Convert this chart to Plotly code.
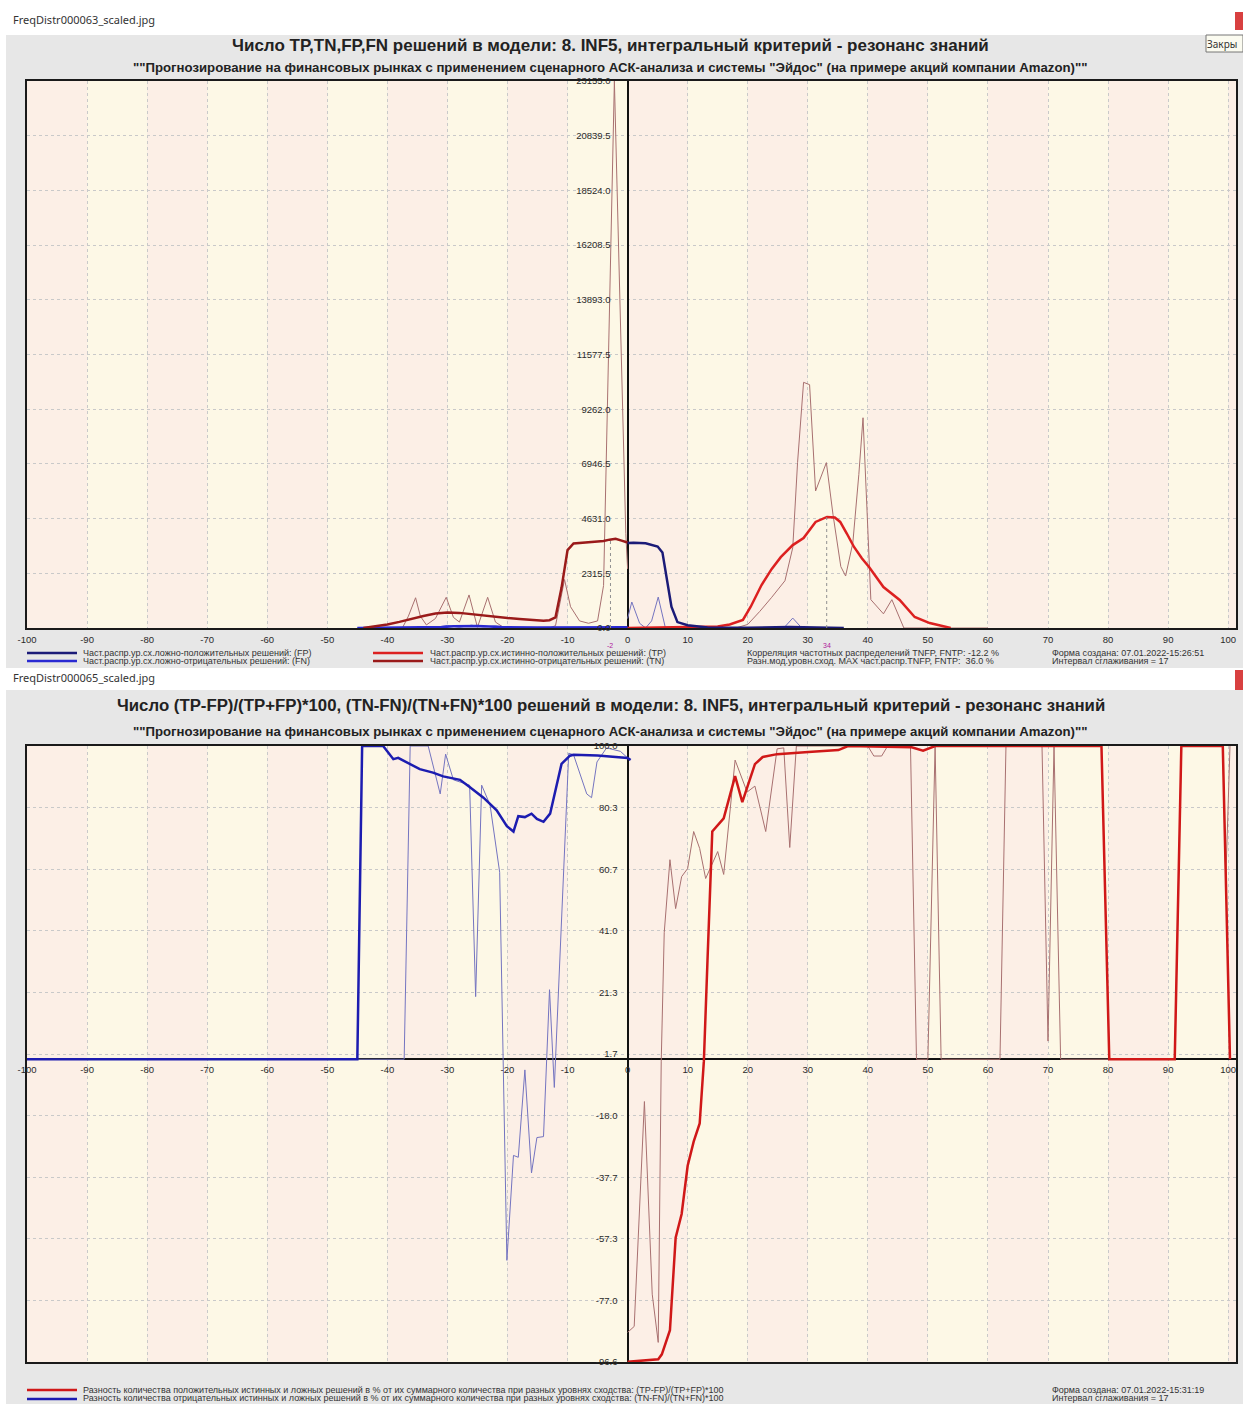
import numpy as np
import plotly.graph_objects as go

W, H = 1243, 1404
def px(x): return x / W
def py(y): return 1 - y / H

# ---------------- DATA: top chart (frequency distributions) ----------------
x_ticks = list(range(-100, 101, 10))
x_labels = [str(v) for v in x_ticks]
y1_ticks = [0, 2315.5, 4631.0, 6946.5, 9262.0, 11577.5, 13893.0, 16208.5, 18524.0, 20839.5, 23155.0]
y1_labels = ["0.0", "2315.5", "4631.0", "6946.5", "9262.0", "11577.5", "13893.0", "16208.5", "18524.0", "20839.5", "23155.0"]

# TN smoothed (thick dark red)
tn_s_x = [-44, -42, -40, -38, -36, -34, -32, -30, -28, -26, -24, -22, -20, -18, -16, -14, -13, -12, -11, -10, -9, -8, -6, -4, -3, -2, -1, 0]
tn_s_y = [0, 60, 150, 260, 390, 510, 610, 660, 640, 580, 520, 470, 420, 380, 340, 310, 330, 450, 1700, 3300, 3580, 3600, 3620, 3680, 3740, 3780, 3700, 3620]
# TN raw (thin)
tn_r_x = [-44, -37.5, -36.5, -35.3, -34.5, -33.5, -32, -30.2, -29, -28, -26.4, -25, -23.3, -22, -20.5, -13, -12, -10.5, -9.5, -8, -6.5, -5, -4, -2.2, -0.3, 0]
tn_r_y = [0, 0, 500, 1280, 500, 130, 400, 1300, 450, 250, 1400, 30, 1300, 250, 0, 0, 100, 2050, 900, 300, 200, 300, 1800, 23155, 4000, 2500]
# TP smoothed (thick red)
tp_s_x = [0, 10, 15, 17, 19.2, 20.5, 22.3, 24, 25.5, 27.5, 29.3, 31.3, 33.2, 34.5, 35.4, 36.5, 37.7, 39, 40.2, 42.6, 45.3, 47.8, 50.3, 53.8]
tp_s_y = [0, 20, 60, 150, 340, 900, 1820, 2500, 3000, 3510, 3810, 4490, 4700, 4680, 4490, 4000, 3430, 2950, 2580, 1735, 1185, 465, 210, 0]
# TP raw (thin)
tp_r_x = [0, 18, 20, 22, 24, 26.2, 27.5, 28.3, 29.3, 30.3, 31.3, 33.1, 34.2, 35.5, 36.3, 37.5, 38.5, 39.2, 40.5, 42.6, 44, 46, 60]
tp_r_y = [0, 0, 150, 700, 1300, 2000, 3400, 7000, 10400, 10300, 5800, 7000, 4800, 2600, 2200, 3600, 6500, 8900, 1200, 600, 1200, 0, 0]
# FP smoothed (thick navy)
fp_s_x = [0, 1, 3, 5, 5.8, 6.5, 7.3, 8.3, 10, 13.3, 20, 27, 30, 36]
fp_s_y = [3600, 3610, 3590, 3450, 3200, 2200, 900, 250, 120, 20, 10, 40, 20, 0]
# FP raw (thin)
fp_r_x = [0, 0.7, 2, 3, 4, 5.1, 6.3, 8, 26, 27.5, 29, 35]
fp_r_y = [400, 1100, 200, 0, 300, 1310, 0, 0, 0, 420, 0, 0]
# FN smoothed / raw (blue)
fn_s_x = [-45, -35, -31, -29, -27, -25, -23, -21, -15, -5, -3, 0]
fn_s_y = [0, 20, 40, 70, 90, 80, 60, 40, 20, 20, 50, 30]
fn_r_x = [-45, -32, -30, -28, -26, -24, -22, -20, -4, -3, -2, 0]
fn_r_y = [0, 0, 110, 30, 120, 40, 90, 0, 0, 60, 20, 0]

# modal similarity levels (labels) and where the program draws their markers
mode_tn = -2
mode_tp = 34
MODE_DRAW_SHIFT = -0.85

# ---------------- DATA: bottom chart (percent differences) ----------------
y2_ticks = list(np.linspace(-96.65, 100, 11))
y2_labels = ["-96.6", "-77.0", "-57.3", "-37.7", "-18.0", "1.7", "21.3", "41.0", "60.7", "80.3", "100.0"]

# (TP-FP)/(TP+FP)*100 smoothed (thick red)
rp_s_x = [0, 2, 4, 5.1, 5.7, 7.05, 8.0, 9.0, 10.0, 11, 12, 12.7, 13.3, 14.1, 16, 17.9, 19.1, 21.2, 22.5, 24.9, 30.1, 35.1, 36.7, 47.3, 49.2, 51.2, 78.9, 80.2, 91.1, 92.2, 99.1, 100.3]
rp_s_y = [-96.6, -96.3, -96.0, -95.8, -94.2, -86.5, -57, -49.4, -34, -26.3, -20.5, -0.6, 31.4, 72.7, 76.9, 90.4, 82.1, 94.2, 96.5, 97.4, 98.1, 98.7, 100, 99.6, 98.5, 100, 100, 0, 0, 100, 100, 0]
# raw (thin)
rp_r_x = [0, 1.1, 2.8, 4.1, 5.1, 5.6, 6.1, 7.05, 8.0, 9.0, 10.0, 11, 12, 13, 15, 16, 17.9, 19.9, 21.2, 23, 24.9, 26.0, 27, 28.1, 40, 41, 42.3, 43.3, 47.1, 48.1, 50.0, 51.2, 52.2, 62, 63, 69, 70, 71, 72.1, 91.1, 92.2, 99.1, 99.6, 100.3]
rp_r_y = [-87.2, -85.3, -13.5, -75, -90.4, -0.6, 40.4, 63.7, 48.1, 58.3, 60.9, 72.7, 67.3, 57.7, 66.3, 59, 95.5, 85.3, 87.2, 72.7, 99.1, 99.4, 67.6, 100, 100, 96.8, 96.8, 100, 100, 0, 0, 100, 0, 0, 100, 100, 5.8, 100, 0, 0, 100, 100, 57, 100]
# (TN-FN)/(TN+FN)*100 smoothed (thick blue)
rn_s_x = [-100, -45, -44.2, -40.7, -39, -38.2, -34.6, -32.4, -30.7, -27.9, -26.3, -24.0, -21.8, -20.1, -19.0, -18.2, -17.1, -16.0, -15.1, -14.0, -12.9, -11.0, -9.6, -9.0, -5, 0, 0.5]
rn_s_y = [0, 0, 100, 100, 95.8, 96.2, 92.6, 91.5, 90.3, 89.2, 86.9, 83.5, 79.5, 74.4, 72.7, 77.6, 77.3, 78.4, 76.7, 75.8, 78.4, 94.3, 96.9, 97.2, 97.0, 96.2, 95.5]
# raw (thin)
rn_r_x = [-45, -37.2, -36.2, -33.2, -31.2, -30.3, -29, -27.4, -26.3, -25.3, -24.3, -22.9, -21.3, -20.1, -19.0, -18.2, -17.1, -16.0, -15.1, -14.0, -13.0, -12.2, -9.8, -9.0, -6.8, -6.0, -5.1, -3.5, -1.2, 0]
rn_r_y = [0, 0, 100, 100, 84.7, 97.4, 89.2, 88.1, 87.5, 20, 87.5, 81.2, 59.7, -64.2, -30.7, -31.3, -3.4, -36.3, -25, -24.7, 22.2, -9, 97.7, 97.2, 84.7, 83.5, 94.9, 99.4, 98.3, 96.2]

# ---------------- styles ----------------
FONT = "Liberation Sans, Arial, sans-serif"
C_NAVY = "#1b1b78"
C_BLUE = "#2a2ad2"
C_RED = "#dc2020"
C_DRED = "#9a1a1a"
C_RAW_R = "#a87070"
C_RAW_B = "#7474c0"
PINK = "#fcefe6"
CREAM = "#fdf8e6"
GRID = "#c9c9c9"

fig = go.Figure()

def add_line(x, y, color, width, xa, ya):
    fig.add_trace(go.Scatter(x=x, y=y, mode="lines", line=dict(color=color, width=width),
                             xaxis=xa, yaxis=ya, hoverinfo="skip", showlegend=False))

# top chart
add_line(tn_r_x, tn_r_y, C_RAW_R, 1, "x", "y")
add_line(tp_r_x, tp_r_y, C_RAW_R, 1, "x", "y")
add_line(fn_r_x, fn_r_y, C_RAW_B, 1, "x", "y")
add_line(fp_r_x, fp_r_y, C_RAW_B, 1, "x", "y")
add_line(fn_s_x, fn_s_y, C_BLUE, 2.5, "x", "y")
add_line(tn_s_x, tn_s_y, C_DRED, 2.5, "x", "y")
add_line(tp_s_x, tp_s_y, C_RED, 2.5, "x", "y")
add_line(fp_s_x, fp_s_y, C_NAVY, 2.5, "x", "y")
# bottom chart
add_line(rn_r_x, rn_r_y, C_RAW_B, 1, "x2", "y2")
add_line(rp_r_x, rp_r_y, C_RAW_R, 1, "x2", "y2")
add_line(rn_s_x, rn_s_y, "#1c1cb0", 2.5, "x2", "y2")
add_line(rp_s_x, rp_s_y, "#d01818", 2.5, "x2", "y2")
# empty traces that only register the label-carrying overlay axes
for xa, ya in (("x", "y3"), ("x2", "y4"), ("x4", "y2")):
    fig.add_trace(go.Scatter(x=[], y=[], xaxis=xa, yaxis=ya, hoverinfo="skip", showlegend=False))

shapes = []
# grey panels
shapes.append(dict(type="rect", xref="paper", yref="paper", x0=px(6), x1=1, y0=py(668), y1=py(35),
                   fillcolor="#e7e7e7", line=dict(width=0), layer="below"))
shapes.append(dict(type="rect", xref="paper", yref="paper", x0=px(6), x1=1, y0=0, y1=py(690),
                   fillcolor="#e7e7e7", line=dict(width=0), layer="below"))
# background bands
for xa, ya in (("x", "y"), ("x2", "y2")):
    for k in range(-100, 101, 10):
        col = PINK if ((k + 100) // 10) % 2 == 0 else CREAM
        shapes.append(dict(type="rect", xref=xa, yref=ya + " domain", x0=k, x1=min(k + 10, 101.3),
                           y0=0, y1=1, fillcolor=col, line=dict(width=0), layer="below"))
# mode markers (dotted verticals)
for m, sx, sy in ((mode_tn, tn_s_x, tn_s_y), (mode_tp, tp_s_x, tp_s_y)):
    xm = m + MODE_DRAW_SHIFT
    shapes.append(dict(type="line", xref="x", yref="y", x0=xm, x1=xm, y0=0, y1=float(np.interp(xm, sx, sy)),
                       line=dict(color="#909090", width=1, dash="dot")))

# legends lines
def leg_line(x0, x1, yy, color):
    shapes.append(dict(type="line", xref="paper", yref="paper", x0=px(x0), x1=px(x1), y0=py(yy), y1=py(yy),
                       line=dict(color=color, width=2.5)))
leg_line(27, 77, 653, C_NAVY)
leg_line(27, 77, 661, C_BLUE)
leg_line(373, 423, 653, C_RED)
leg_line(373, 423, 661, C_DRED)
leg_line(27, 77, 1390, "#d01818")
leg_line(27, 77, 1399, "#1c1cb0")

# window decorations
shapes.append(dict(type="rect", xref="paper", yref="paper", x0=px(1235), x1=1, y0=py(30), y1=py(12),
                   fillcolor="#d84040", line=dict(width=0)))
shapes.append(dict(type="rect", xref="paper", yref="paper", x0=px(1235), x1=1, y0=py(690), y1=py(670),
                   fillcolor="#d84040", line=dict(width=0)))
shapes.append(dict(type="rect", xref="paper", yref="paper", x0=px(1206), x1=1, y0=py(52), y1=py(35),
                   fillcolor="#fbfbf0", line=dict(width=1, color="#777777")))

ann = []
def text(x, y, s, size, anchor="left", color="#222222", bold=False, family=FONT):
    ann.append(dict(x=px(x), y=py(y), xref="paper", yref="paper", text=s, showarrow=False,
                    xanchor=anchor, yanchor="middle", borderpad=0,
                    font=dict(size=size, color=color, family=family, weight="bold" if bold else "normal")))

text(12, 20, "FreqDistr000063_scaled.jpg", 11, family="Noto Sans, Open Sans, sans-serif", color="#333333")
text(12, 677, "FreqDistr000065_scaled.jpg", 11, family="Noto Sans, Open Sans, sans-serif", color="#333333")
text(1206, 44, "Закры", 10, family="Noto Sans, Open Sans, sans-serif", color="#333333")

text(610, 46, "Число TP,TN,FP,FN решений в модели: 8. INF5, интегральный критерий - резонанс знаний", 17, "center", bold=True)
text(610, 67, '""Прогнозирование на финансовых рынках с применением сценарного АСК-анализа и системы "Эйдос" (на примере акций компании Amazon)""', 13.2, "center", bold=True)
text(611, 706, "Число (TP-FP)/(TP+FP)*100, (TN-FN)/(TN+FN)*100 решений в модели: 8. INF5, интегральный критерий - резонанс знаний", 16.8, "center", bold=True)
text(610, 731, '""Прогнозирование на финансовых рынках с применением сценарного АСК-анализа и системы "Эйдос" (на примере акций компании Amazon)""', 13.2, "center", bold=True)

LC = "#333333"
text(82, 653, "Част.распр.ур.сх.ложно-положительных решений: (FP)", 9, color=LC)
text(82, 661, "Част.распр.ур.сх.ложно-отрицательных решений: (FN)", 9, color=LC)
text(429, 653, "Част.распр.ур.сх.истинно-положительных решений: (TP)", 9, color=LC)
text(429, 661, "Част.распр.ур.сх.истинно-отрицательных решений: (TN)", 9, color=LC)
text(746, 653, "Корреляция частотных распределений TNFP, FNTP: -12.2 %", 9, color=LC)
text(746, 661, "Разн.мод.уровн.сход. MAX част.распр.TNFP, FNTP:  36.0 %", 9, color=LC)
text(1051, 653, "Форма создана: 07.01.2022-15:26:51", 9, color=LC)
text(1051, 661, "Интервал сглаживания = 17", 9, color=LC)
text(82, 1390, "Разность количества положительных истинных и ложных решений в % от их суммарного количества при разных уровнях сходства: (TP-FP)/(TP+FP)*100", 9, color=LC)
text(82, 1398, "Разность количества отрицательных истинных и ложных решений в % от их суммарного количества при разных уровнях сходства: (TN-FN)/(TN+FN)*100", 9, color=LC)
text(1051, 1390, "Форма создана: 07.01.2022-15:31:19", 9, color=LC)
text(1051, 1398, "Интервал сглаживания = 17", 9, color=LC)

# mode labels (magenta) under the axis
for m in (mode_tn, mode_tp):
    ann.append(dict(x=m + MODE_DRAW_SHIFT, y=0, xref="x", yref="y", text=str(m), showarrow=False, yanchor="top",
                    yshift=-13, borderpad=0, font=dict(size=7, color="#b0209c", family=FONT)))

TICKF = dict(size=9.5, color="#2a2a2a", family=FONT)
xrng = [-100, 101.3]
common_x = dict(range=xrng, tickvals=x_ticks, ticktext=x_labels, showgrid=True, gridcolor=GRID, griddash="dot",
                gridwidth=1, zeroline=True, zerolinecolor="#111111", zerolinewidth=2, showline=True,
                linecolor="#1a1a1a", linewidth=2, mirror=True, ticks="", tickfont=TICKF, fixedrange=True,
                automargin=False)
common_y = dict(showgrid=True, gridcolor=GRID, griddash="dot", gridwidth=1, showline=True, linecolor="#1a1a1a",
                linewidth=2, mirror=True, ticks="", showticklabels=False, fixedrange=True, automargin=False)

fig.update_layout(
    width=W, height=H, margin=dict(l=0, r=0, t=0, b=0, pad=0, autoexpand=False),
    paper_bgcolor="white", plot_bgcolor=CREAM, showlegend=False,
    font=dict(family=FONT),
    xaxis=dict(common_x, domain=[px(27), px(1236)], anchor="y", ticklabelstandoff=2),
    yaxis=dict(common_y, domain=[py(628), py(81)], range=[0, 23155], tickvals=y1_ticks, zeroline=False, anchor="x"),
    xaxis2=dict(common_x, domain=[px(27), px(1236)], anchor="y2", showticklabels=False),
    yaxis2=dict(common_y, domain=[py(1362), py(746)], range=[-96.65, 100], tickvals=y2_ticks, zeroline=True,
                zerolinecolor="#111111", zerolinewidth=2, anchor="x2"),
    yaxis3=dict(overlaying="y", anchor="free", position=px(627.5), side="left", range=[0, 23155],
                tickvals=y1_ticks, ticktext=y1_labels, showgrid=False, zeroline=False, showline=False,
                ticks="", tickfont=TICKF, ticklabelstandoff=17, fixedrange=True, automargin=False),
    yaxis4=dict(overlaying="y2", anchor="free", position=px(627.5), side="left", range=[-96.65, 100],
                tickvals=y2_ticks, ticktext=y2_labels, showgrid=False, zeroline=False, showline=False,
                ticks="", tickfont=TICKF, ticklabelstandoff=10, fixedrange=True, automargin=False),
    xaxis4=dict(overlaying="x2", anchor="free", position=py(1059.3), side="bottom", range=xrng,
                tickvals=x_ticks, ticktext=x_labels, showgrid=False, zeroline=False, showline=False, ticks="",
                tickfont=TICKF, ticklabelstandoff=3, fixedrange=True, automargin=False),
    shapes=shapes, annotations=ann,
)

fig.write_html("out.html", config={"displayModeBar": False},
               post_script="document.body.style.margin='0px';")
